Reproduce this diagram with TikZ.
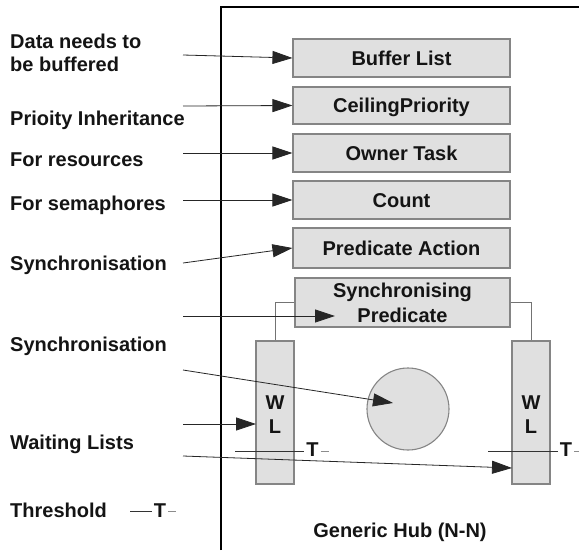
\documentclass[tikz,border=0pt]{standalone}
\usepackage{fontspec}
\setmainfont{Liberation Sans}
\usetikzlibrary{arrows.meta}
\begin{document}
\begin{tikzpicture}[x=1pt,y=-1pt,
  txt/.style={anchor=base,inner sep=0pt,font=\fontsize{20}{24}\selectfont\bfseries,text=black!92},
  lbl/.style={txt,anchor=base west},
  fieldbox/.style={draw=black!48,fill=black!12,line width=1.1pt,minimum width=217pt,inner sep=0pt,
    font=\fontsize{20}{24}\selectfont\bfseries,text=black!92,text height=14pt,text depth=0pt},
  hubcircle/.style={circle,draw=black!48,fill=black!12,line width=1.1pt,minimum size=82pt,inner sep=0pt},
  conn/.style={draw=black!85,line width=0.8pt},
  arr/.style={conn,-{Triangle[length=20pt,width=13pt]}},
  link/.style={draw=black!55,line width=0.9pt},
  tmark/.style={txt,inner xsep=2pt,text height=14pt,text depth=0pt},
  tline/.style={draw=black!80,line width=0.8pt},
  tdash/.style={draw=black!45,line width=0.8pt},
  frame/.style={draw=black,line width=1.2pt}
]
\useasboundingbox (0,0) rectangle (579,550);
\fill[white] (0,0) rectangle (579,550);

% hub frame
\draw[frame] (221,550) -- (221,7) -- (579,7);

% field boxes
\node[fieldbox,minimum height=38pt] (buf)  at (401.5,58)    {Buffer List};
\node[fieldbox,minimum height=37pt] (ceil) at (401.5,105.5) {CeilingPriority};
\node[fieldbox,minimum height=38pt] (own)  at (401.5,153)   {Owner Task};
\node[fieldbox,minimum height=38pt] (cnt)  at (401.5,200)   {Count};
\node[fieldbox,minimum height=40pt] (pa)   at (401.5,248)   {Predicate Action};
\node[fieldbox,minimum width=215pt,minimum height=49pt] (sp) at (402.5,302.5) {};
\node[txt] (sp1) at (402.5,297) {Synchronising};
\node[txt] (sp2) at (402.5,322) {Predicate};

% waiting lists
\node[fieldbox,minimum width=38pt,minimum height=143pt] (wl1) at (275,412.5) {};
\node[fieldbox,minimum width=38pt,minimum height=143pt] (wl2) at (531,412.5) {};
\node[txt] (w1) at (275,409) {W};
\node[txt] (l1) at (275,433) {L};
\node[txt] (w2) at (531,409) {W};
\node[txt] (l2) at (531,433) {L};

% central circle
\node[hubcircle] (hub) at (408,409) {};

% links predicate -> waiting lists
\draw[link] (sp.west) -| (wl1.north);
\draw[link] (sp.east) -| (wl2.north);

% left labels
\node[lbl] (la1) at (10,48)  {Data needs to};
\node[lbl] (la2) at (10,71)  {be buffered};
\node[lbl] (lb)  at (10,125) {Prioity Inheritance};
\node[lbl] (lc)  at (10,166) {For resources};
\node[lbl] (ld)  at (10,210) {For semaphores};
\node[lbl] (le)  at (10,270) {Synchronisation};
\node[lbl] (lf)  at (10,351) {Synchronisation};
\node[lbl] (lg)  at (10,449) {Waiting Lists};
\node[lbl] (lh)  at (10,517) {Threshold};

% hub caption
\node[txt] (cap) at (400,537) {Generic Hub (N-N)};

% arrow start / end points
\coordinate (s1) at (183,55);
\coordinate (s2) at (183,106);
\coordinate (s3) at (183,153);
\coordinate (s4) at (183,200);
\coordinate (s5) at (183,263);
\coordinate (s6) at (183,316);
\coordinate (s7) at (183,370);
\coordinate (s8) at (183,424);
\coordinate (s9) at (183,456);
\coordinate (e6) at (335,316);
\coordinate (e7) at (393,403);
\coordinate (e8) at (256,424);
\coordinate (e9) at (512,468);

\draw[arr] (s1) -- (buf.west);
\draw[arr] (s2) -- (ceil.west);
\draw[arr] (s3) -- (own.west);
\draw[arr] (s4) -- (cnt.west);
\draw[arr] (s5) -- (pa.west);
\draw[arr] (s6) -- (e6);
\draw[arr] (s7) -- (e7);
\draw[arr] (s8) -- (e8);
\draw[arr] (s9) -- (e9);

% thresholds
\coordinate (ta) at (235,451);
\node[tmark] (t1) at (312.5,456) {T};
\draw[tline] (ta) -- (t1.west |- ta);
\draw[tdash] (t1.east |- ta) -- ++(8,0);

\coordinate (tb) at (488,451);
\node[tmark] (t2) at (566,456) {T};
\draw[tline] (tb) -- (t2.west |- tb);
\draw[tdash] (t2.east |- tb) -- ++(8,0);

% legend
\coordinate (tc) at (130,511);
\node[tmark] (t3) at (160,517) {T};
\draw[tline] (tc) -- (t3.west |- tc);
\draw[tdash] (t3.east |- tc) -- ++(8,0);
\end{tikzpicture}
\end{document}
